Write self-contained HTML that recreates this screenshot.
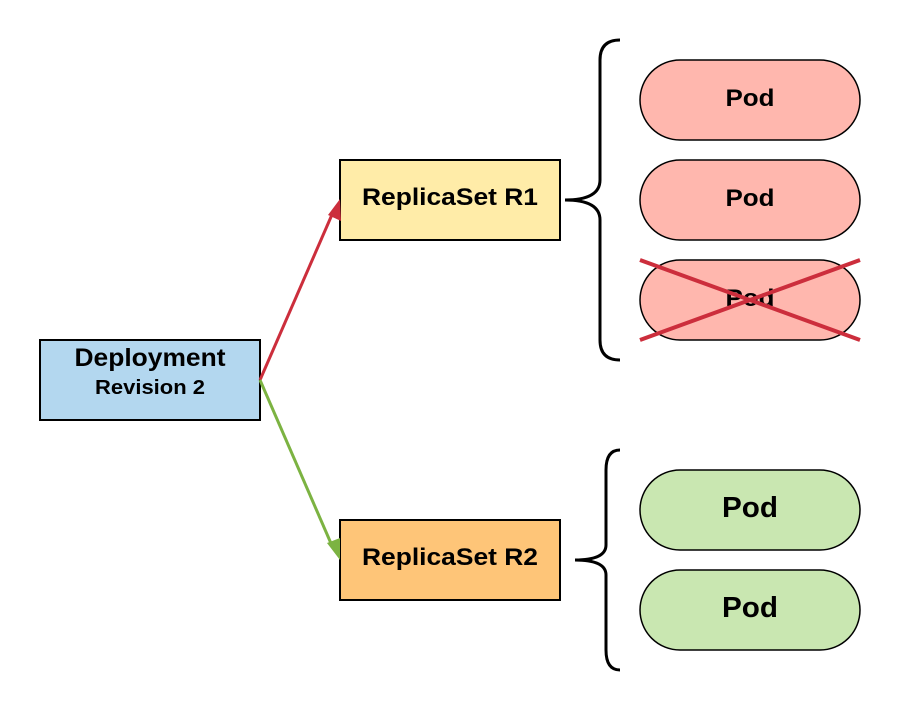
<!DOCTYPE html>
<html><head><style>body{margin:0;background:#fff}</style></head><body>
<svg width="900" height="710" xmlns="http://www.w3.org/2000/svg" font-family="Liberation Sans, sans-serif" font-weight="bold">
<rect x="40" y="340" width="220" height="80" fill="#b3d7ef" stroke="#000" stroke-width="2"/>
<text x="150" y="366" font-size="25" text-anchor="middle" textLength="151" lengthAdjust="spacingAndGlyphs">Deployment</text>
<text x="150" y="394" font-size="20" text-anchor="middle" textLength="110" lengthAdjust="spacingAndGlyphs">Revision 2</text>
<rect x="340" y="160" width="220" height="80" fill="#ffeca8" stroke="#000" stroke-width="2"/>
<text x="450" y="205" font-size="24" text-anchor="middle" textLength="176" lengthAdjust="spacingAndGlyphs">ReplicaSet R1</text>
<rect x="340" y="520" width="220" height="80" fill="#fec578" stroke="#000" stroke-width="2"/>
<text x="450" y="565" font-size="24" text-anchor="middle" textLength="176" lengthAdjust="spacingAndGlyphs">ReplicaSet R2</text>
<line x1="260" y1="380" x2="334" y2="210" stroke="#cc2e3c" stroke-width="3"/>
<polygon points="340,199 341,221 328,215" fill="#cc2e3c"/>
<line x1="260" y1="380" x2="333" y2="548" stroke="#7cb342" stroke-width="3"/>
<polygon points="340,560 327,543 340,538" fill="#7cb342"/>
<path d="M620,40 Q600,40 600,60 L600,180 Q600,200 565,200 Q600,200 600,220 L600,340 Q600,360 620,360" fill="none" stroke="#000" stroke-width="3"/>
<path d="M620,450 Q606,450 606,470 L606,545 Q606,560 575,560 Q606,560 606,575 L606,650 Q606,670 620,670" fill="none" stroke="#000" stroke-width="3"/>
<g stroke="#000" stroke-width="1.5">
<rect x="640" y="60" width="220" height="80" rx="40" fill="#ffb7ae"/>
<rect x="640" y="160" width="220" height="80" rx="40" fill="#ffb7ae"/>
<rect x="640" y="260" width="220" height="80" rx="40" fill="#ffb7ae"/>
<rect x="640" y="470" width="220" height="80" rx="40" fill="#c9e7b1"/>
<rect x="640" y="570" width="220" height="80" rx="40" fill="#c9e7b1"/>
</g>
<g font-size="24" text-anchor="middle">
<text x="750" y="106" textLength="49" lengthAdjust="spacingAndGlyphs">Pod</text>
<text x="750" y="206" textLength="49" lengthAdjust="spacingAndGlyphs">Pod</text>
<text x="750" y="306" textLength="49" lengthAdjust="spacingAndGlyphs">Pod</text>
</g>
<g font-size="29" text-anchor="middle">
<text x="750" y="517" textLength="56" lengthAdjust="spacingAndGlyphs">Pod</text>
<text x="750" y="617" textLength="56" lengthAdjust="spacingAndGlyphs">Pod</text>
</g>
<line x1="640" y1="260" x2="860" y2="340" stroke="#cc2e3c" stroke-width="4"/>
<line x1="640" y1="340" x2="860" y2="260" stroke="#cc2e3c" stroke-width="4"/>
</svg>
</body></html>
